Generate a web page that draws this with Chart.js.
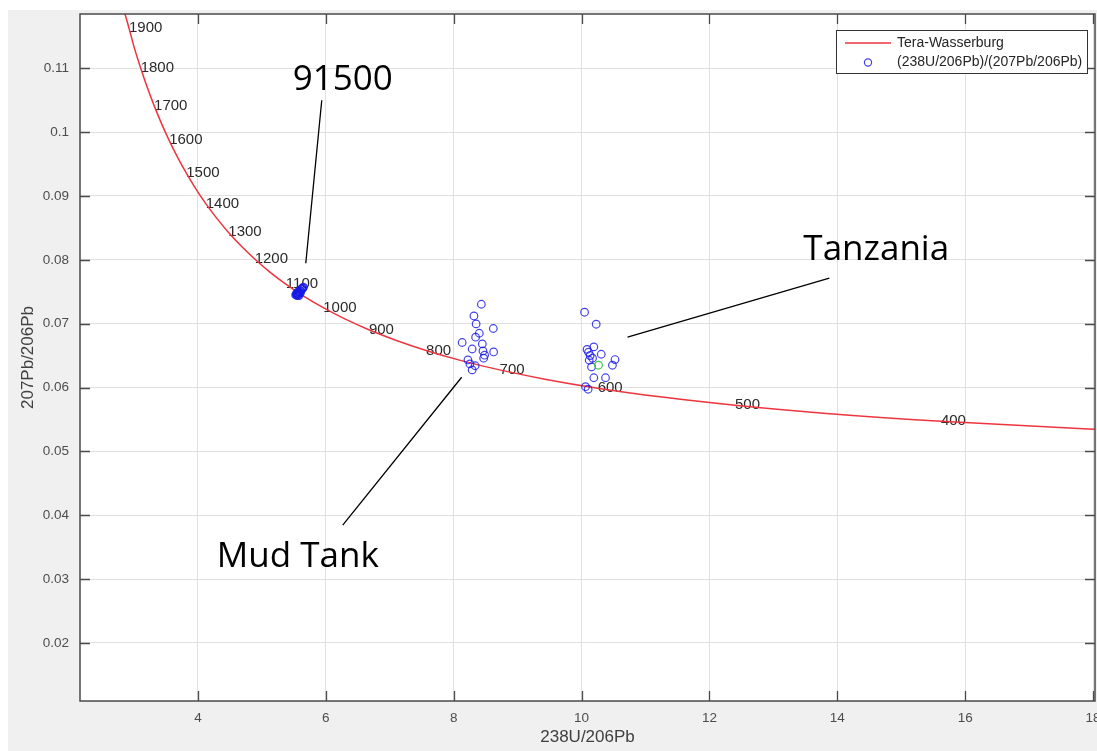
<!DOCTYPE html>
<html><head><meta charset="utf-8">
<script src="https://cdn.jsdelivr.net/npm/chart.js@4.4.1/dist/chart.umd.min.js"></script>
<style>html,body{margin:0;padding:0;background:#fff;overflow:hidden}canvas{display:block}</style>
</head><body>
<canvas id="c" width="1097" height="751"></canvas>
<script>
// Concordia (Tera-Wasserburg) curve points
const concordiaX = [2.749, 2.831, 2.922, 3.008, 3.105, 3.206, 3.314, 3.428, 3.550, 3.679, 3.817, 3.965, 4.123, 4.293, 4.476, 4.673, 4.888, 5.121, 5.375, 5.653, 5.960, 6.298, 6.674, 7.095, 7.568, 8.105, 8.718, 9.426, 10.252, 11.228, 12.399, 13.831, 15.620, 17.923, 19.039];
const concordiaY = [0.12299, 0.11958, 0.11629, 0.11311, 0.11004, 0.10706, 0.10419, 0.10141, 0.09871, 0.09611, 0.09360, 0.09116, 0.08881, 0.08653, 0.08432, 0.08219, 0.08012, 0.07812, 0.07619, 0.07431, 0.07250, 0.07074, 0.06904, 0.06740, 0.06580, 0.06425, 0.06276, 0.06131, 0.05990, 0.05854, 0.05722, 0.05594, 0.05470, 0.05350, 0.05303];

// Age labels (Ma) along the curve
const ageLabels = ['1900','1800','1700','1600','1500','1400','1300','1200','1100','1000','900','800','700','600','500','400'];
const ageX = [2.922, 3.105, 3.314, 3.550, 3.817, 4.123, 4.476, 4.888, 5.375, 5.960, 6.674, 7.568, 8.718, 10.252, 12.399, 15.620];
const ageY = [0.11629, 0.11004, 0.10419, 0.09871, 0.09360, 0.08881, 0.08432, 0.08012, 0.07619, 0.07250, 0.06904, 0.06580, 0.06276, 0.05990, 0.05722, 0.05470];

// 91500 standard
const s91500X = [5.55, 5.56, 5.55, 5.57, 5.58, 5.56, 5.59, 5.60, 5.61, 5.62, 5.63, 5.64, 5.65, 5.54, 5.57, 5.58, 5.60, 5.53];
const s91500Y = [0.0745, 0.0746, 0.0748, 0.0747, 0.0749, 0.0744, 0.0750, 0.0752, 0.0751, 0.0754, 0.0755, 0.0756, 0.0757, 0.0746, 0.0750, 0.0744, 0.0748, 0.0745];

// Mud Tank
const mudTankX = [8.433, 8.317, 8.351, 8.620, 8.401, 8.343, 8.133, 8.448, 8.289, 8.458, 8.625, 8.484, 8.469, 8.223, 8.254, 8.336, 8.289];
const mudTankY = [0.07304, 0.07121, 0.06996, 0.06924, 0.06850, 0.06788, 0.06705, 0.06683, 0.06603, 0.06573, 0.06557, 0.06506, 0.06459, 0.06432, 0.06370, 0.06341, 0.06276];

// Tanzania
const tanzaniaX = [10.047, 10.229, 10.192, 10.086, 10.308, 10.523, 10.483, 10.134, 10.120, 10.156, 10.192, 10.375, 10.062, 10.103, 10.109, 10.172];
const tanzaniaY = [0.07179, 0.06991, 0.06636, 0.06597, 0.06521, 0.06438, 0.06349, 0.06501, 0.06427, 0.06323, 0.06153, 0.06153, 0.06013, 0.05973, 0.06553, 0.06459];

// green point
const greenX = [10.265];
const greenY = [0.06349];

// axes
const xMin = 2.156, xMax = 18.03, yMin = 0.0109, yMax = 0.1185;
const xTickValues = [4, 6, 8, 10, 12, 14, 16, 18];
const xTickLabels = ['4', '6', '8', '10', '12', '14', '16', '18'];
const yTickValues = [0.02, 0.03, 0.04, 0.05, 0.06, 0.07, 0.08, 0.09, 0.10, 0.11];
const yTickLabels = ['0.02', '0.03', '0.04', '0.05', '0.06', '0.07', '0.08', '0.09', '0.1', '0.11'];

// annotations (data coordinates)
const annotLabels = ['91500', 'Tanzania', 'Mud Tank'];
const annotX = [6.265, 14.609, 5.562];
const annotY = [0.10812, 0.0815, 0.03343];
const leaderX1 = [5.937, 13.875, 6.265];
const leaderY1 = [0.10499, 0.07712, 0.03844];
const leaderX2 = [5.687, 10.719, 8.125];
const leaderY2 = [0.07947, 0.06788, 0.06161];

const legendLabels = ['Tera-Wasserburg', '(238U/206Pb)/(207Pb/206Pb)'];

const pts = (xs, ys) => xs.map((x, i) => ({x: x, y: ys[i]}));

const AXIS = '#4a4a4a';
const BLUE = 'rgba(25,25,230,0.82)';
const RED = 'rgb(238,52,62)';
const FONT = '"Liberation Sans", Arial, sans-serif';

const decor = {
  id: 'decor',
  beforeDraw(chart) {
    const ctx = chart.ctx, a = chart.chartArea;
    ctx.save();
    ctx.fillStyle = '#ffffff';
    ctx.fillRect(0, 0, chart.width, chart.height);
    ctx.fillStyle = '#f0f0f0';
    ctx.fillRect(8, 10, chart.width - 8, chart.height - 10);
    ctx.fillStyle = '#ffffff';
    ctx.fillRect(a.left, a.top, a.right - a.left, a.bottom - a.top);
    ctx.restore();
  },
  beforeDatasetsDraw(chart) {
    const ctx = chart.ctx, a = chart.chartArea, xs = chart.scales.x, ys = chart.scales.y;
    ctx.save();
    ctx.beginPath(); ctx.rect(a.left, a.top, a.right - a.left, a.bottom - a.top); ctx.clip();
    ctx.font = '15px ' + FONT;
    ctx.fillStyle = '#2a2a2a';
    ctx.textAlign = 'left';
    ctx.textBaseline = 'middle';
    ageLabels.forEach((t, i) => {
      ctx.fillText(t, xs.getPixelForValue(ageX[i]), ys.getPixelForValue(ageY[i]));
    });
    ctx.restore();
  },
  afterDatasetsDraw(chart) {
    const ctx = chart.ctx, a = chart.chartArea, xs = chart.scales.x, ys = chart.scales.y;
    ctx.save();
    // box
    ctx.strokeStyle = AXIS;
    ctx.lineWidth = 1.5;
    ctx.strokeRect(a.left, a.top, a.right - a.left, a.bottom - a.top);
    // inward ticks
    ctx.lineWidth = 1.3;
    ctx.beginPath();
    xTickValues.forEach(v => {
      const p = Math.round(xs.getPixelForValue(v)) + 0.5;
      ctx.moveTo(p, a.bottom); ctx.lineTo(p, a.bottom - 10);
      ctx.moveTo(p, a.top); ctx.lineTo(p, a.top + 10);
    });
    yTickValues.forEach(v => {
      const p = Math.round(ys.getPixelForValue(v)) + 0.5;
      ctx.moveTo(a.left, p); ctx.lineTo(a.left + 10, p);
      ctx.moveTo(a.right, p); ctx.lineTo(a.right - 10, p);
    });
    ctx.stroke();
    // annotations
    ctx.strokeStyle = '#000';
    ctx.lineWidth = 1.3;
    ctx.beginPath();
    annotLabels.forEach((t, i) => {
      ctx.moveTo(xs.getPixelForValue(leaderX1[i]), ys.getPixelForValue(leaderY1[i]));
      ctx.lineTo(xs.getPixelForValue(leaderX2[i]), ys.getPixelForValue(leaderY2[i]));
    });
    ctx.stroke();
    ctx.fillStyle = '#000';
    ctx.font = '35px "Open Sans", sans-serif';
    ctx.textAlign = 'center';
    ctx.textBaseline = 'middle';
    annotLabels.forEach((t, i) => {
      ctx.fillText(t, xs.getPixelForValue(annotX[i]), ys.getPixelForValue(annotY[i]));
    });
    // legend
    const lx = 836, ly = 30, lw = 251, lh = 43;
    ctx.fillStyle = '#fff';
    ctx.fillRect(lx, ly, lw, lh);
    ctx.strokeStyle = '#333';
    ctx.lineWidth = 1;
    ctx.strokeRect(lx + 0.5, ly + 0.5, lw, lh);
    ctx.strokeStyle = RED;
    ctx.lineWidth = 1.5;
    ctx.beginPath(); ctx.moveTo(845, 43); ctx.lineTo(891, 43); ctx.stroke();
    ctx.strokeStyle = BLUE;
    ctx.lineWidth = 1.2;
    ctx.beginPath(); ctx.arc(868, 62.5, 3.6, 0, Math.PI * 2); ctx.stroke();
    ctx.fillStyle = '#262626';
    ctx.font = '14px ' + FONT;
    ctx.textAlign = 'left';
    ctx.textBaseline = 'middle';
    ctx.fillText(legendLabels[0], 897, 43);
    ctx.fillText(legendLabels[1], 897, 62.5);
    ctx.restore();
  }
};

new Chart(document.getElementById('c'), {
  type: 'scatter',
  data: {
    datasets: [
      {label: legendLabels[0], data: pts(concordiaX, concordiaY), showLine: true, borderColor: RED, borderWidth: 1.5,
       pointRadius: 0, cubicInterpolationMode: 'monotone', order: 5},
      {label: '91500', data: pts(s91500X, s91500Y), showLine: false, pointRadius: 3.8, borderWidth: 1.4,
       borderColor: BLUE, backgroundColor: 'rgba(0,0,0,0)', order: 1},
      {label: 'Mud Tank', data: pts(mudTankX, mudTankY), showLine: false, pointRadius: 3.8, borderWidth: 1.2,
       borderColor: BLUE, backgroundColor: 'rgba(0,0,0,0)', order: 1},
      {label: 'Tanzania', data: pts(tanzaniaX, tanzaniaY), showLine: false, pointRadius: 3.8, borderWidth: 1.2,
       borderColor: BLUE, backgroundColor: 'rgba(0,0,0,0)', order: 1},
      {label: 'mean', data: pts(greenX, greenY), showLine: false, pointRadius: 3.8, borderWidth: 1.2,
       borderColor: 'rgb(60,200,60)', backgroundColor: 'rgba(0,0,0,0)', order: 0}
    ]
  },
  options: {
    responsive: false,
    animation: false,
    events: [],
    layout: {autoPadding: false, padding: {left: 0, top: 14, right: 2, bottom: 0}},
    plugins: {legend: {display: false}, tooltip: {enabled: false}, title: {display: false}},
    scales: {
      x: {
        type: 'linear', min: xMin, max: xMax,
        afterBuildTicks: s => { s.ticks = xTickValues.map(v => ({value: v})); },
        afterFit: s => { s.height = 50; s.paddingLeft = 0; s.paddingRight = 0; },
        ticks: {padding: 9, color: '#4d4d4d', font: {family: FONT, size: 13.5},
                callback: (v) => xTickLabels[xTickValues.indexOf(v)], maxRotation: 0, autoSkip: false},
        grid: {color: '#e0e0e0', lineWidth: 1, drawTicks: false},
        border: {display: false},
        title: {display: true, text: '238U/206Pb', color: '#404040', font: {family: FONT, size: 17}, padding: {top: 0, bottom: 3}}
      },
      y: {
        type: 'linear', min: yMin, max: yMax,
        afterBuildTicks: s => { s.ticks = yTickValues.map(v => ({value: v})); },
        afterFit: s => { s.width = 80; s.paddingTop = 0; s.paddingBottom = 0; },
        ticks: {padding: 11, color: '#4d4d4d', font: {family: FONT, size: 13.5},
                callback: (v) => yTickLabels[yTickValues.findIndex(t => Math.abs(t - v) < 1e-9)], autoSkip: false},
        grid: {color: '#e0e0e0', lineWidth: 1, drawTicks: false},
        border: {display: false},
        title: {display: true, text: '207Pb/206Pb', color: '#404040', font: {family: FONT, size: 17}, padding: {top: 18, bottom: 0}}
      }
    }
  },
  plugins: [decor]
});
</script>
</body></html>
